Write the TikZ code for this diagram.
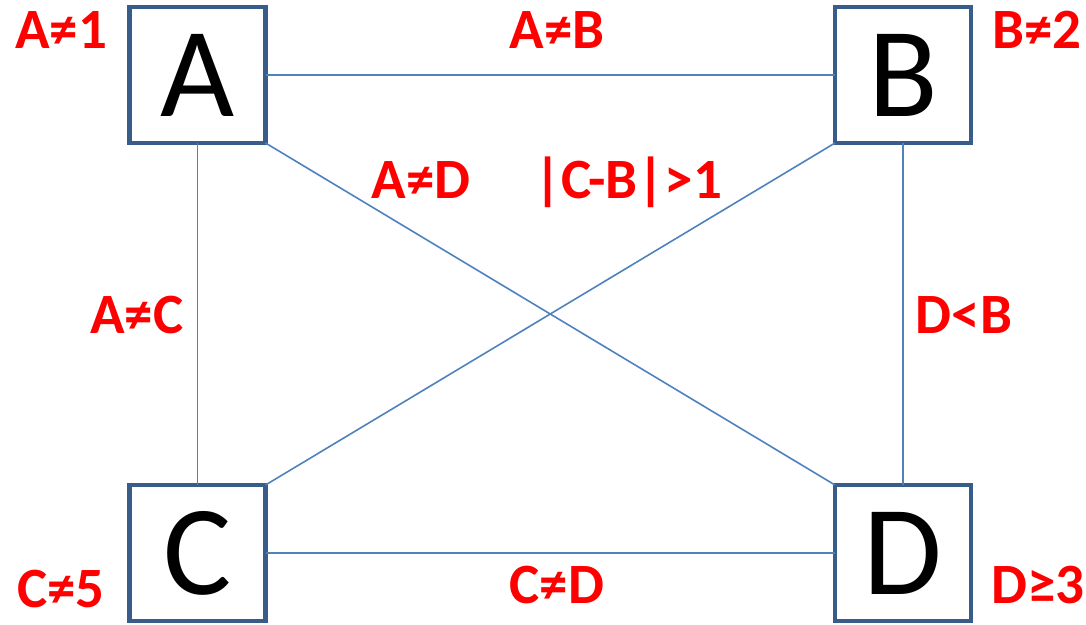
\documentclass[tikz,border=0pt]{standalone}
\usepackage{fontspec}
\setmainfont{Carlito}
\definecolor{boxblue}{HTML}{385D8A}
\definecolor{linkblue}{HTML}{4F81BD}
\definecolor{labelred}{HTML}{FF0000}
\begin{document}
\begin{tikzpicture}[x=1pt,y=-1pt,
  varbox/.style={draw=boxblue, line width=4.5pt, fill=white, minimum size=136pt,
    inner sep=0pt, outer sep=0pt},
  varname/.style={inner sep=0pt, font=\fontsize{128}{128}\selectfont},
  link/.style={draw=linkblue, line width=1.6pt},
  cons/.style={anchor=base, inner sep=0pt, text=labelred,
    font=\fontsize{57}{66}\selectfont\bfseries}]
\useasboundingbox (0,0) rectangle (1086,624);

% variable boxes
\node[varbox] (A) at (197.5,75) {};
\node[varbox] (B) at (903,75) {};
\node[varbox] (C) at (197.5,553) {};
\node[varbox] (D) at (903,553) {};

% constraint edges
\draw[link] (A.east) -- (B.west);
\draw[link] (C.east) -- (D.west);
\draw[link] (A.south) -- (C.north);
\draw[link] (B.south) -- (D.north);
\draw[link] (A.south east) -- (D.north west);
\draw[link] (B.south west) -- (C.north east);

% variable names
\node[varname] (nA) at (A) {A};
\node[varname] (nB) at (B) {B};
\node[varname] (nC) at (C) {C};
\node[varname] (nD) at (D) {D};

% unary constraints
\node[cons] (ua) at (61,48) {A≠1};
\node[cons] (ub) at (1037,48) {B≠2};
\node[cons] (uc) at (61,607) {C≠5};
\node[cons] (ud) at (1038,603) {D≥3};

% binary constraints
\node[cons] (ab) at (557,48) {A≠B};
\node[cons] (ad) at (421,198) {A≠D};
\node[cons] (cb) at (628,198) {|C-B|>1};
\node[cons] (ac) at (137,333) {A≠C};
\node[cons] (db) at (964,333) {D<B};
\node[cons] (cd) at (557,603) {C≠D};
\end{tikzpicture}
\end{document}
